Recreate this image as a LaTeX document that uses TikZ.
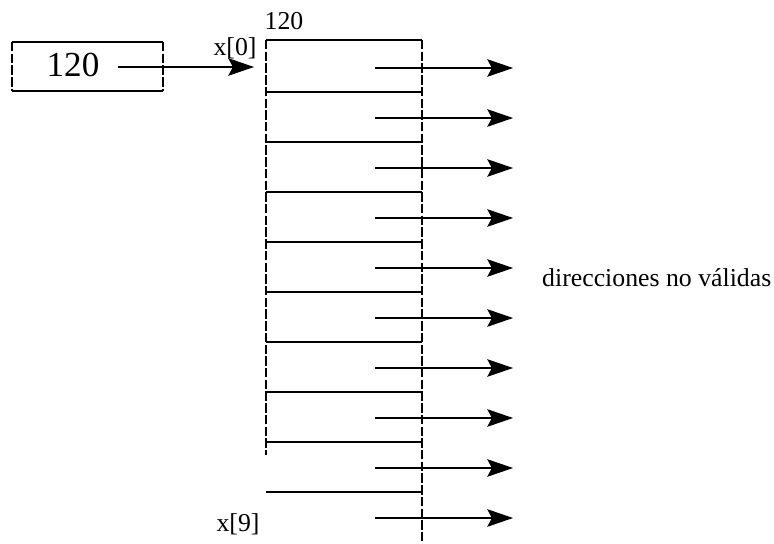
\documentclass[tikz,border=0pt]{standalone}
\usepackage{fontspec}
\setmainfont{Liberation Serif}
\usetikzlibrary{arrows.meta}

\begin{document}
\begin{tikzpicture}[x=0.03cm,y=-0.03cm,
  ptr/.style={-{Stealth[length=22pt,width=15pt,inset=4pt]},line width=1pt},
  rim/.style={dash pattern=on 8pt off 2pt,line width=0.9pt},
  lbl/.style={font=\fontsize{22}{26}\selectfont,inner sep=0pt}]

\useasboundingbox (0,0) rectangle (774,544);

% the pointer variable and its value
\node[font=\fontsize{30}{34}\selectfont,inner sep=0pt] (val) at (73,65) {120};
\draw[line width=1.2pt] (12,42) -- (163,42) (12,91) -- (163,91);
\draw[rim] (12,42) -- (12,91) (163,42) -- (163,91);

\coordinate (out) at (118,67);
\coordinate (x0) at (254,67);
\draw[ptr] (out) -- (x0);

% the array x[0..9]
\draw[line width=1.2pt] (266,40) -- (422,40);
\foreach \i in {1,...,9}
  \draw[line width=1.2pt] (266,42+50*\i) -- (422,42+50*\i);
\draw[rim] (266,40) -- (266,455);
\draw[rim] (422,40) -- (422,544);

\foreach \i in {0,...,9}{
  \coordinate (p\i) at (375,68+50*\i);
  \coordinate (q\i) at (513,68+50*\i);
  \draw[ptr] (p\i) -- (q\i);
}

\node[lbl] (addr) at (284,21) {120};
\node[lbl] (first) at (235,48) {x[0]};
\node[lbl] (last) at (238,524) {x[9]};
\node[lbl,anchor=west] (bad) at (542,278) {direcciones no válidas};

\end{tikzpicture}
\end{document}
